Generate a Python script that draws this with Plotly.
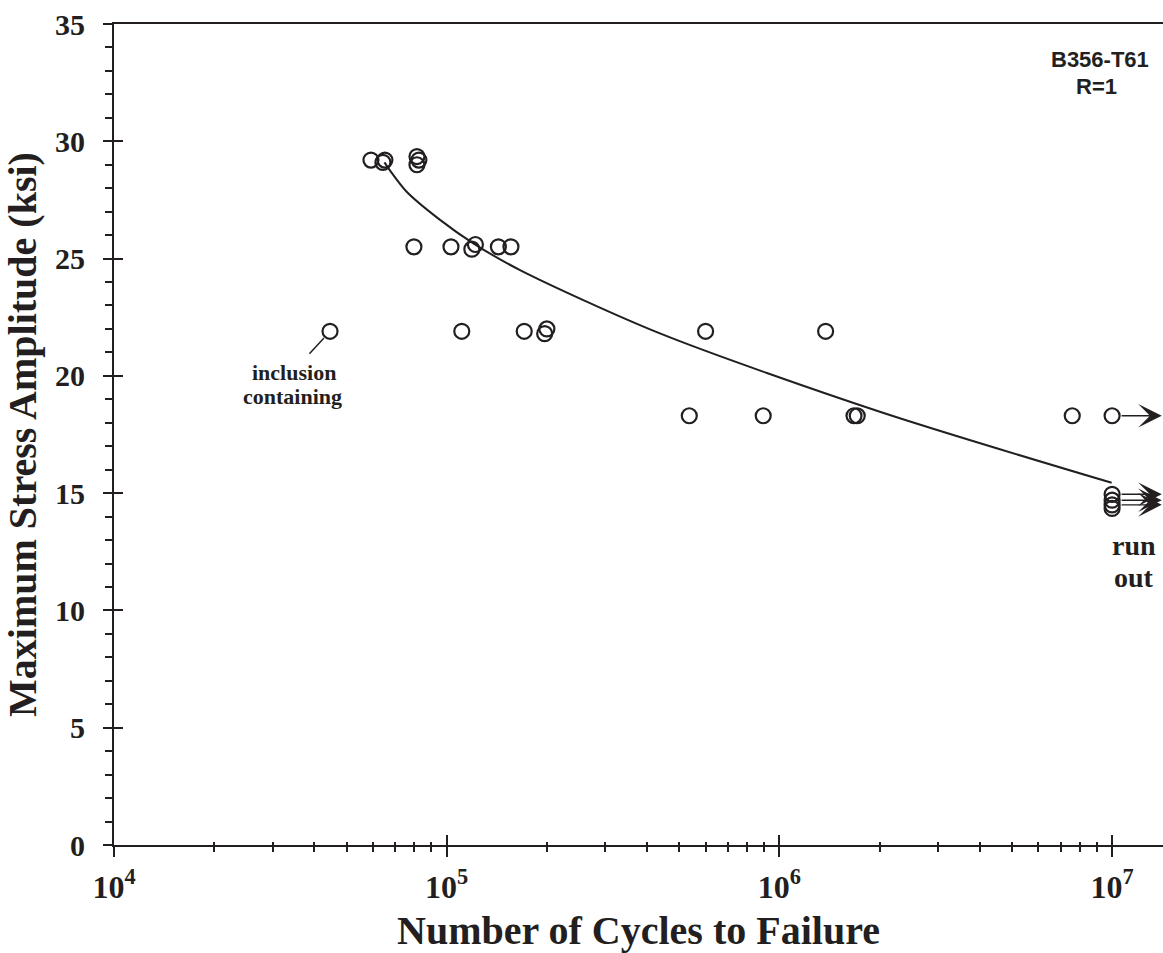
import math
import plotly.graph_objects as go

# ---------------- data ----------------
fail_N = [59200, 64300, 65200, 81400, 81400, 82500,
          79700, 103000, 119000, 122000, 143000, 156000,
          44600, 111000, 171000, 197000, 200000, 600000, 1377000,
          536000, 894000, 1676000, 1714000, 7590000]
fail_S = [29.2, 29.1, 29.2, 29.35, 29.0, 29.2,
          25.5, 25.5, 25.4, 25.6, 25.5, 25.5,
          21.9, 21.9, 21.9, 21.8, 22.0, 21.9, 21.9,
          18.3, 18.3, 18.3, 18.3, 18.3]

runout_N = [1e7, 1e7, 1e7, 1e7, 1e7]
runout_S = [18.3, 14.95, 14.7, 14.5, 14.35]
arrow_S = [18.3, 14.95, 14.7, 14.5]
arrow_end_N = 1.41e7

fit_N = [65000, 67200, 75800, 95500, 120200, 166100, 437500, 2004000, 9970000]
fit_S = [29.1, 28.8, 27.85, 26.65, 25.65, 24.51, 21.81, 18.47, 15.44]

inclusion_N = 44600
inclusion_S = 21.9

x_major = [1e4, 1e5, 1e6, 1e7]
x_major_text = ["10<sup>4</sup>", "10<sup>5</sup>", "10<sup>6</sup>", "10<sup>7</sup>"]
x_minor = [m * d for d in (1e4, 1e5, 1e6) for m in range(2, 10)]
y_major = [0, 5, 10, 15, 20, 25, 30, 35]

INK = "#231f20"
SERIF = "Liberation Serif"
SANS = "Liberation Sans"

fig = go.Figure()

fig.add_trace(go.Scatter(x=fit_N, y=fit_S, mode="lines",
                         line=dict(color=INK, width=2, shape="spline", smoothing=0.8),
                         hoverinfo="skip", showlegend=False))
fig.add_trace(go.Scatter(x=fail_N, y=fail_S, mode="markers",
                         marker=dict(symbol="circle-open", size=15, color=INK,
                                     line=dict(color=INK, width=2.2)),
                         showlegend=False))
fig.add_trace(go.Scatter(x=runout_N, y=runout_S, mode="markers",
                         marker=dict(symbol="circle-open", size=15, color=INK,
                                     line=dict(color=INK, width=2.2)),
                         showlegend=False))
# empty traces for the overlay axes (inner half of crossing ticks)
fig.add_trace(go.Scatter(x=[], y=[], xaxis="x2", yaxis="y", showlegend=False))
fig.add_trace(go.Scatter(x=[], y=[], xaxis="x", yaxis="y2", showlegend=False))

xtickfont = dict(family=SERIF, size=32, color=INK, weight="bold")
ytickfont = dict(family=SERIF, size=30, color=INK, weight="bold")
titlefont = dict(family=SERIF, size=40, color=INK, weight="bold")

fig.update_layout(
    width=1163, height=953,
    margin=dict(l=114, r=0, t=24, b=108),
    paper_bgcolor="white", plot_bgcolor="white",
    xaxis=dict(type="log", range=[4, 7.153], showgrid=False, zeroline=False,
               showline=True, linecolor=INK, linewidth=2.2, mirror=True,
               ticks="outside", ticklen=10, tickwidth=2, tickcolor=INK,
               tickvals=x_major, ticktext=x_major_text, tickfont=xtickfont,
               ticklabelstandoff=2,
               minor=dict(tickvals=x_minor, ticks="outside", ticklen=5,
                          tickwidth=2, tickcolor=INK),
               title=dict(text="Number of Cycles to Failure", font=titlefont,
                          standoff=12)),
    xaxis2=dict(type="log", range=[4, 7.153], overlaying="x", anchor="y", side="bottom",
                showgrid=False, zeroline=False, showline=False,
                ticks="inside", ticklen=10, tickwidth=2, tickcolor=INK,
                tickvals=x_major, showticklabels=False,
                minor=dict(tickvals=x_minor, ticks="inside", ticklen=3,
                           tickwidth=2, tickcolor=INK)),
    yaxis=dict(range=[0, 35], showgrid=False, zeroline=False,
               showline=True, linecolor=INK, linewidth=2.2,
               ticks="outside", ticklen=9, tickwidth=2, tickcolor=INK,
               tickvals=y_major, tickfont=ytickfont, ticklabelstandoff=12,
               minor=dict(dtick=1, ticks="outside", ticklen=7, tickwidth=2,
                          tickcolor=INK),
               title=dict(text="Maximum Stress Amplitude (ksi)", font=titlefont,
                          standoff=6)),
    yaxis2=dict(range=[0, 35], overlaying="y", anchor="x", side="left",
                showgrid=False, zeroline=False, showline=False,
                ticks="inside", ticklen=9, tickwidth=2, tickcolor=INK,
                tickvals=y_major, showticklabels=False),
)

# label block top right
fig.add_annotation(xref="paper", yref="paper", x=0.940, y=0.975,
                   text="B356-T61", showarrow=False,
                   xanchor="center", yanchor="top",
                   font=dict(family=SANS, size=22, color=INK, weight="bold"))
fig.add_annotation(xref="paper", yref="paper", x=0.937, y=0.942,
                   text="R=1", showarrow=False,
                   xanchor="center", yanchor="top",
                   font=dict(family=SANS, size=22, color=INK, weight="bold"))

# inclusion containing (annotation coords on a log axis are log10 values)
lx = math.log10(inclusion_N)
fig.add_annotation(x=lx, y=inclusion_S, xref="x", yref="y",
                   text="", showarrow=True, arrowhead=0, arrowwidth=1.5,
                   arrowcolor=INK, ax=-22, ay=24, standoff=9)
fig.add_annotation(x=lx, y=inclusion_S, xref="x", yref="y",
                   text="inclusion", showarrow=False,
                   xanchor="center", yanchor="top", xshift=-36, yshift=-27,
                   font=dict(family=SERIF, size=22, color=INK, weight="bold"))
fig.add_annotation(x=lx, y=inclusion_S, xref="x", yref="y",
                   text="containing", showarrow=False,
                   xanchor="center", yanchor="top", xshift=-38, yshift=-51,
                   font=dict(family=SERIF, size=22, color=INK, weight="bold"))

# run-out arrows
for s in arrow_S:
    fig.add_annotation(x=math.log10(arrow_end_N), y=s, xref="x", yref="y",
                       ax=math.log10(runout_N[0]), ay=s, axref="x", ayref="y",
                       text="", showarrow=True, arrowhead=3, arrowsize=2.8,
                       arrowwidth=1.4, arrowcolor=INK, startstandoff=8, standoff=0)

fig.add_annotation(x=math.log10(arrow_end_N), y=min(runout_S), xref="x", yref="y",
                   text="run", showarrow=False, xanchor="center",
                   yanchor="top", xshift=-28, yshift=-20,
                   font=dict(family=SERIF, size=28, color=INK, weight="bold"))
fig.add_annotation(x=math.log10(arrow_end_N), y=min(runout_S), xref="x", yref="y",
                   text="out", showarrow=False, xanchor="center",
                   yanchor="top", xshift=-28, yshift=-52,
                   font=dict(family=SERIF, size=28, color=INK, weight="bold"))

fig.write_html("out.html")
